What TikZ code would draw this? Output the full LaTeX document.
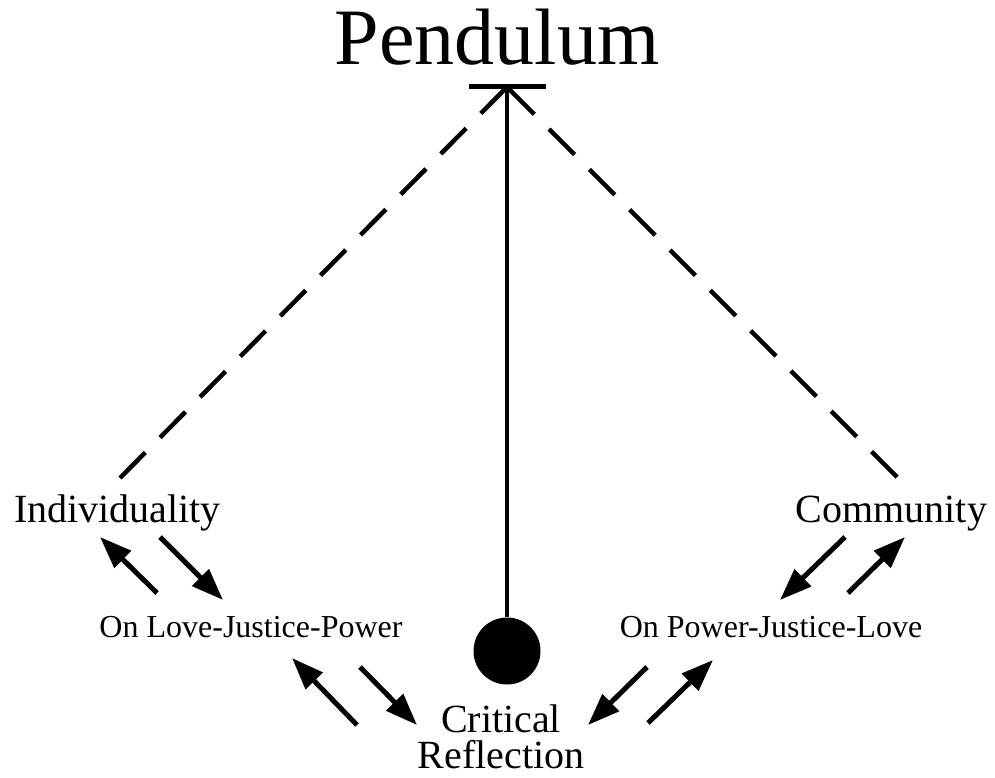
\documentclass[tikz,border=0pt]{standalone}
\usepackage{fontspec}
\setmainfont{Liberation Serif}
\usetikzlibrary{arrows.meta}
\begin{document}
\begin{tikzpicture}[x=1pt,y=-1pt,
  lbl/.style={inner sep=0pt, anchor=base, font=\fontsize{40}{36}\selectfont},
  sublbl/.style={inner sep=0pt, anchor=base, font=\fontsize{32}{36}\selectfont},
  dashline/.style={line width=4.5pt, dash pattern=on 36pt off 21pt},
  flow/.style={line width=5pt, -{Triangle[length=32pt,width=23pt]}},
]
\useasboundingbox (0,0) rectangle (995,778);
\node[inner sep=0pt, anchor=base, font=\fontsize{80}{90}\selectfont] (title) at (497,65) {Pendulum};
\coordinate (barL) at (469,87);
\coordinate (barR) at (546,87);
\coordinate (pivot) at (507,87);
\draw[line width=5pt] (barL) -- (barR);
\node[circle, fill=black, inner sep=0pt, minimum size=67pt] (ball) at (507,651) {};
\draw[line width=4.5pt] (pivot) -- (ball.north);

\node[lbl] (ind) at (117.5,522) {Individuality};
\node[lbl] (com) at (891.5,522) {Community};
\node[sublbl] (olj) at (251,637) {On Love-Justice-Power};
\node[sublbl] (opj) at (771,637) {On Power-Justice-Love};
\node[lbl, align=center] (cr) at (501,768) {Critical\\Reflection};

\coordinate (dl) at (120,478);
\coordinate (dr) at (897,477);
\draw[dashline] (dl) -- (pivot);
\draw[dashline] (dr) -- (pivot);

% left upper pair
\coordinate (a1t) at (157,593); \coordinate (a1h) at (100,537);
\coordinate (a2t) at (160,537); \coordinate (a2h) at (223,600);
\draw[flow] (a1t) -- (a1h);
\draw[flow] (a2t) -- (a2h);
% right upper pair
\coordinate (b1t) at (845,537); \coordinate (b1h) at (780,600);
\coordinate (b2t) at (848,593); \coordinate (b2h) at (905,537);
\draw[flow] (b1t) -- (b1h);
\draw[flow] (b2t) -- (b2h);
% bottom left pair
\coordinate (c1t) at (357,725); \coordinate (c1h) at (292,658);
\coordinate (c2t) at (360,667); \coordinate (c2h) at (417,725);
\draw[flow] (c1t) -- (c1h);
\draw[flow] (c2t) -- (c2h);
% bottom right pair
\coordinate (d1t) at (647,667); \coordinate (d1h) at (588,725);
\coordinate (d2t) at (648,723); \coordinate (d2h) at (713,660);
\draw[flow] (d1t) -- (d1h);
\draw[flow] (d2t) -- (d2h);
\end{tikzpicture}
\end{document}
